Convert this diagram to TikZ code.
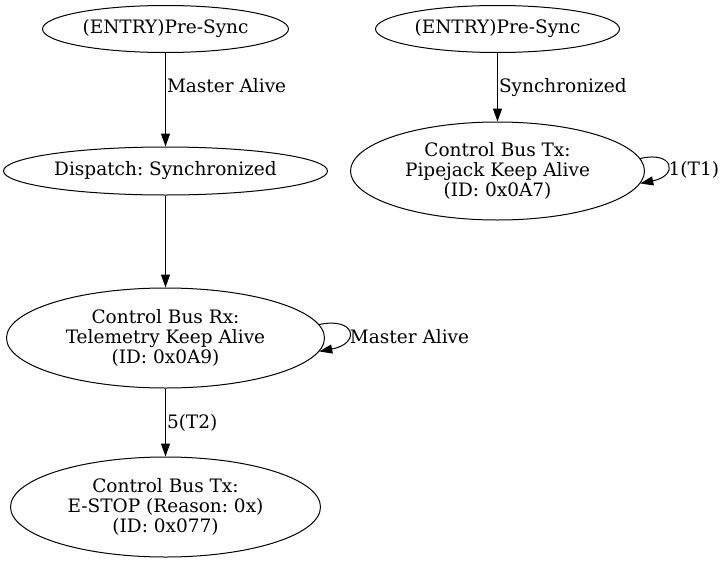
\documentclass[tikz,border=0pt]{standalone}
\usepackage{fontspec}
\setmainfont{DejaVu Serif}
\usetikzlibrary{arrows.meta,shapes.geometric}
\begin{document}
\frenchspacing
\begin{tikzpicture}[x=1pt,y=-1pt,
 st/.style={draw,ellipse,inner sep=0pt,line width=1pt,align=center,font=\fontsize{18.5}{20}\selectfont},
 edge/.style={draw,line width=1pt,-{Triangle[length=13pt,width=9pt]}},
 lbl/.style={anchor=west,inner sep=1pt,font=\fontsize{18.5}{20}\selectfont}]
\useasboundingbox (0,0) rectangle (725,562);
\node[st,minimum width=246pt,minimum height=47pt] (a) at (165.5,29) {(ENTRY)Pre-Sync};
\node[st,minimum width=324pt,minimum height=48pt] (b) at (165.5,171) {Dispatch: Synchronized};
\node[st,minimum width=318pt,minimum height=100pt] (c) at (165.5,338) {Control Bus Rx:\\Telemetry Keep Alive\\(ID: 0x0A9)};
\node[st,minimum width=310pt,minimum height=100pt] (d) at (165.5,507) {Control Bus Tx:\\E-STOP (Reason: 0x)\\(ID: 0x077)};
\node[st,minimum width=244pt,minimum height=47pt] (e) at (497.5,29) {(ENTRY)Pre-Sync};
\node[st,minimum width=294pt,minimum height=98pt] (f) at (497.5,171) {Control Bus Tx:\\Pipejack Keep Alive\\(ID: 0x0A7)};
\draw[edge] (a) -- (b) node[lbl,pos=0.35] {Master Alive};
\draw[edge] (b) -- (c);
\draw[edge] (c) -- (d) node[lbl,pos=0.5] {5(T2)};
\draw[edge] (c.5) .. controls +(36,-8) and +(42,-8) .. (c.-5) node[lbl,pos=0.5,yshift=-5pt] {Master Alive};
\draw[edge] (e) -- (f) node[lbl,pos=0.5] {Synchronized};
\draw[edge] (f.5) .. controls +(33,-8) and +(39,-8) .. (f.-5) node[lbl,pos=0.5,yshift=-5pt] {1(T1)};
\end{tikzpicture}
\end{document}
